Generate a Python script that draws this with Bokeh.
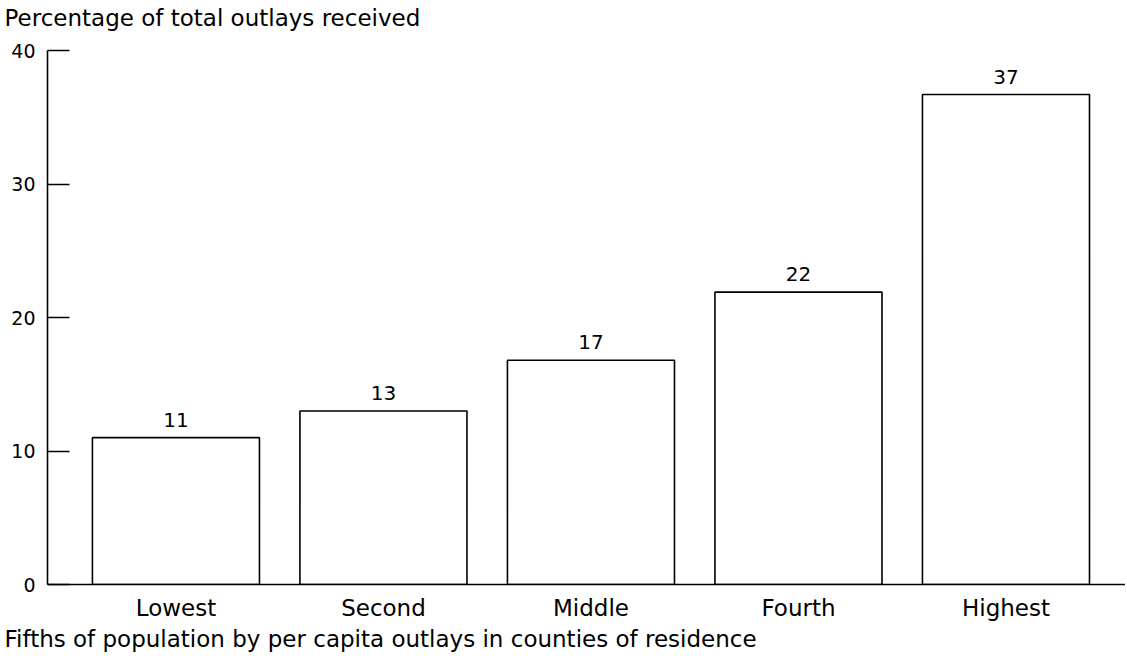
from bokeh.plotting import figure
from bokeh.models import ColumnDataSource, FixedTicker, Range1d, Title
from bokeh.core.properties import value
from bokeh.embed import file_html
from bokeh.resources import INLINE

categories = ["Lowest", "Second", "Middle", "Fourth", "Highest"]
shares = [11.0, 13.0, 16.8, 21.9, 36.7]
share_labels = ["11", "13", "17", "22", "37"]
y_ticks = [0, 10, 20, 30, 40]

positions = [i + 1 for i in range(len(categories))]

FONT = "DejaVu Sans"

source = ColumnDataSource(dict(x=positions, top=shares, label=share_labels))

x_range = Range1d(0.381, 5.576)
y_range = Range1d(0, 40)

p = figure(width=1125, height=654, output_backend="svg", toolbar_location=None,
           x_range=x_range, y_range=y_range,
           min_border_left=47, min_border_top=50, min_border_bottom=70, min_border_right=0)

# spacer between the frame and the title text
p.add_layout(Title(text=" ", text_font_size="2px", standoff=16), "above")
p.add_layout(Title(text="Percentage of total outlays received",
                   align="left", offset=-43, text_font=FONT, text_font_size="23px",
                   text_font_style="normal", text_color="black", standoff=0), "above")

p.vbar(x="x", top="top", bottom=0, width=0.805, source=source,
       fill_color="white", line_color="black", line_width=1.6)

p.text(x="x", y="top", text="label", source=source, y_offset=-11,
       text_align="center", text_baseline="bottom",
       text_font=value(FONT), text_font_size="20px", text_color="black")

p.xgrid.visible = False
p.ygrid.visible = False
p.outline_line_color = None

ya = p.yaxis[0]
ya.ticker = FixedTicker(ticks=y_ticks)
ya.major_tick_in = 22
ya.major_tick_out = 0
ya.minor_tick_line_color = None
ya.axis_line_color = "black"
ya.axis_line_width = 1.6
ya.major_tick_line_color = "black"
ya.major_tick_line_width = 1.6
ya.major_label_text_font = FONT
ya.major_label_text_font_size = "19px"
ya.major_label_text_color = "black"
ya.major_label_standoff = 12

xa = p.xaxis[0]
xa.ticker = FixedTicker(ticks=positions)
xa.major_label_overrides = {pos: name for pos, name in zip(positions, categories)}
xa.major_tick_in = 0
xa.major_tick_out = 0
xa.minor_tick_line_color = None
xa.axis_line_color = "black"
xa.axis_line_width = 1.6
xa.major_label_text_font = FONT
xa.major_label_text_font_size = "23px"
xa.major_label_text_color = "black"
xa.major_label_standoff = 10

p.add_layout(Title(text="Fifths of population by per capita outlays in counties of residence",
                   align="left", offset=-43, text_font=FONT, text_font_size="23px",
                   text_font_style="normal", text_color="black", standoff=1), "below")

open("out.html", "w").write(file_html(p, INLINE))
